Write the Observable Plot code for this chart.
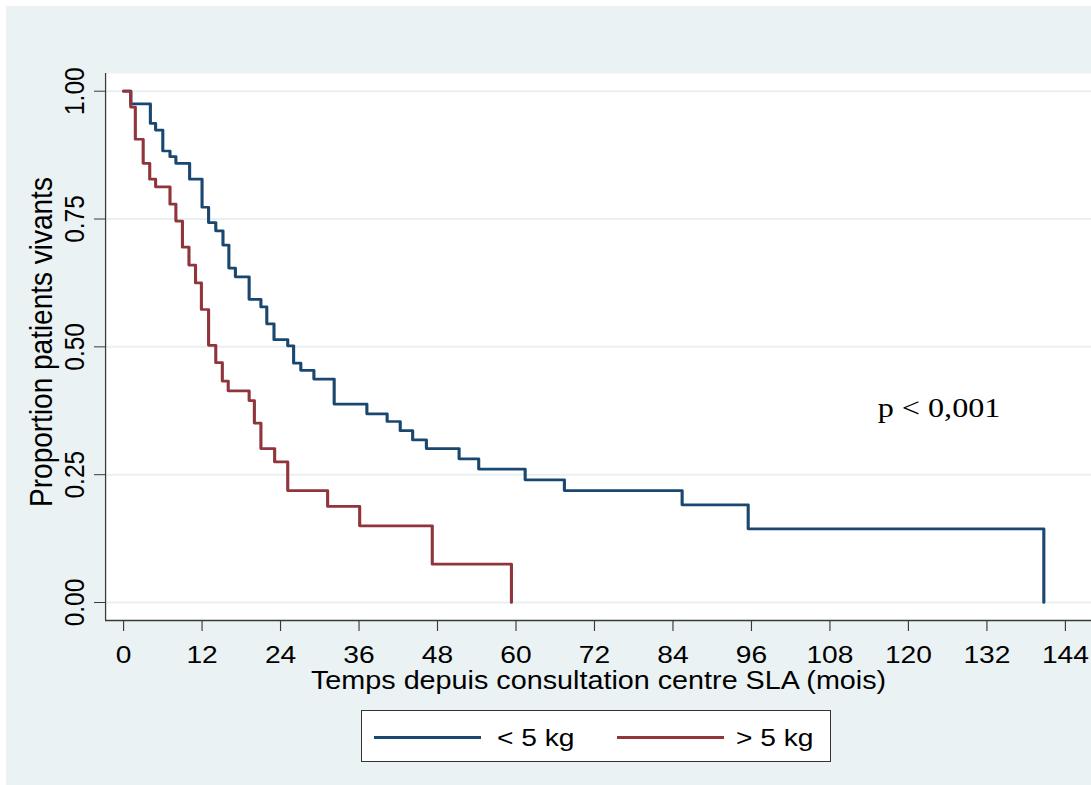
<!DOCTYPE html>
<html>
<head>
<meta charset="utf-8">
<script src="https://cdn.jsdelivr.net/npm/d3@7"></script>
<script src="https://cdn.jsdelivr.net/npm/@observablehq/plot@0.6"></script>
<style>
  html, body { margin: 0; padding: 0; background: #ffffff; }
  #page { position: relative; width: 1091px; height: 785px; overflow: hidden; background: #ffffff; }
  #bg { position: absolute; left: 6px; top: 6px; right: 0; bottom: 0; background: #eaf2f3; }
  #chart { position: absolute; left: 0; top: 0; }
  #legend { position: absolute; left: 361px; top: 710px; width: 470px; height: 52px; box-sizing: border-box;
            background: #ffffff; border: 1px solid #333333; font-family: "Liberation Sans", Arial, sans-serif; }
  #legend .sw { position: absolute; top: 25px; height: 3px; }
  #legend .lb { position: absolute; top: 15px; font-size: 24.5px; line-height: 24.5px; color: #000;
                transform: scaleX(1.15); transform-origin: left center; white-space: nowrap; }
</style>
</head>
<body>
<div id="page">
  <div id="bg"></div>
  <div id="chart"></div>
  <div id="legend"></div>
</div>
<script>
// ---- data ----
const groups = ["< 5 kg", "> 5 kg"];
const groupColors = ["#1a476f", "#90353b"];

// Kaplan-Meier, weight loss < 5 kg
const timeLow = [0, 1.1, 4.1, 4.9, 6.0, 7.1, 8.0, 10.1, 12.0, 13.0, 14.1, 15.2, 16.1, 17.1, 19.2, 21.0, 21.9, 23.0, 25.1, 26.0, 27.1, 29.1, 32.2, 37.2, 40.3, 42.3, 44.2, 46.3, 51.3, 54.3, 61.4, 67.4, 85.4, 95.5, 140.7];
const survLow = [1.000, 0.975, 0.937, 0.924, 0.883, 0.872, 0.859, 0.828, 0.773, 0.743, 0.727, 0.699, 0.654, 0.637, 0.593, 0.578, 0.545, 0.514, 0.502, 0.468, 0.454, 0.437, 0.388, 0.369, 0.354, 0.336, 0.318, 0.301, 0.281, 0.261, 0.240, 0.219, 0.191, 0.144, 0.000];

// Kaplan-Meier, weight loss > 5 kg
const timeHigh = [0, 1.1, 1.8, 3.0, 4.0, 4.9, 7.1, 8.0, 9.0, 10.0, 11.0, 11.9, 13.0, 14.1, 15.1, 16.0, 19.2, 20.0, 21.0, 23.1, 25.1, 31.2, 36.1, 47.2, 59.3];
const survHigh = [1.000, 0.969, 0.906, 0.859, 0.828, 0.813, 0.779, 0.746, 0.695, 0.660, 0.625, 0.573, 0.503, 0.469, 0.433, 0.414, 0.395, 0.351, 0.301, 0.275, 0.219, 0.188, 0.150, 0.075, 0.000];

const xTicks = [0, 12, 24, 36, 48, 60, 72, 84, 96, 108, 120, 132, 144];
const yTicks = [0, 0.25, 0.5, 0.75, 1];
const xTitle = "Temps depuis consultation centre SLA (mois)";
const yTitle = "Proportion patients vivants";
const annotationText = ["p < 0,001"];
const annotationX = [115.3];
const annotationY = [0.362];

// ---- build table ----
const rows = [];
timeLow.forEach((t, i) => rows.push({t, s: survLow[i], g: groups[0]}));
timeHigh.forEach((t, i) => rows.push({t, s: survHigh[i], g: groups[1]}));
const annots = annotationText.map((text, i) => ({text, x: annotationX[i], y: annotationY[i]}));

// ---- layout (Stata-like export is stretched horizontally) ----
const S = 1.15;
const W = 1091, H = 700;
const W0 = W / S;
const xDomain = [-2.75, 148.0];
const yDomain = [-0.0352, 1.0346];
const axisColor = "#3a3a3a";
const gridColor = "#e8f0f2";
const font = 24.5;

const svg = Plot.plot({
  width: W0,
  height: H,
  marginLeft: 105 / S,
  marginRight: 0,
  marginTop: 73,
  marginBottom: H - 620,
  x: {domain: xDomain, axis: null},
  y: {domain: yDomain, axis: null},
  color: {domain: groups, range: groupColors},
  marks: [
    Plot.frame({fill: "white", stroke: "none"}),
    Plot.ruleY(yTicks, {stroke: gridColor, strokeWidth: 2}),
    Plot.ruleX([xDomain[0]], {stroke: axisColor, strokeWidth: 1.1}),
    Plot.ruleY([yDomain[0]], {stroke: axisColor, strokeWidth: 1.4}),
    Plot.line(rows.filter(d => d.g === groups[0]), {x: "t", y: "s", stroke: "g", curve: "step-after", strokeWidth: 2.7}),
    Plot.line(rows.filter(d => d.g === groups[1]), {x: "t", y: "s", stroke: "g", curve: "step-after", strokeWidth: 2.7}),
    Plot.axisX({ticks: xTicks, tickSize: 11, tickPadding: 14, fontSize: font, label: null, stroke: axisColor, fill: "#000", tickFormat: d => String(d)}),
    Plot.axisY({ticks: yTicks, tickSize: 11 / S, tickPadding: 11 / S, tickRotate: -90, fontSize: font, label: null,
                stroke: axisColor, fill: "#000", tickFormat: d3.format(".2f")}),
    Plot.text([xTitle], {text: d => d, frameAnchor: "bottom", lineAnchor: "bottom", dy: 68, fontSize: 25, fill: "#000"}),
    Plot.text([yTitle], {text: d => d, frameAnchor: "left", rotate: -90, textAnchor: "middle", lineAnchor: "bottom",
                         dx: -54 / S, dy: -5, fontSize: 28, fill: "#000"}),
    Plot.text(annots, {x: "x", y: "y", text: "text", textAnchor: "start", lineAnchor: "bottom", fontSize: 28,
                       fontFamily: "'Liberation Serif', 'Times New Roman', serif", fill: "#000"})
  ]
});

svg.setAttribute("viewBox", `0 0 ${W0} ${H}`);
svg.setAttribute("width", W);
svg.setAttribute("height", H);
svg.setAttribute("preserveAspectRatio", "none");
svg.style.width = W + "px";
svg.style.height = H + "px";
svg.style.maxWidth = "none";
svg.style.background = "transparent";
svg.style.fontFamily = "'Liberation Sans', Arial, sans-serif";
svg.style.overflow = "visible";
document.getElementById("chart").appendChild(svg);

// ---- legend ----
const legend = document.getElementById("legend");
const swatchLeft = [12, 255];
const labelLeft = [135, 374];
groups.forEach((g, i) => {
  const sw = document.createElement("div");
  sw.className = "sw";
  sw.style.left = swatchLeft[i] + "px";
  sw.style.width = "107px";
  sw.style.background = groupColors[i];
  legend.appendChild(sw);
  const lb = document.createElement("span");
  lb.className = "lb";
  lb.style.left = labelLeft[i] + "px";
  lb.textContent = g;
  legend.appendChild(lb);
});
</script>
</body>
</html>
